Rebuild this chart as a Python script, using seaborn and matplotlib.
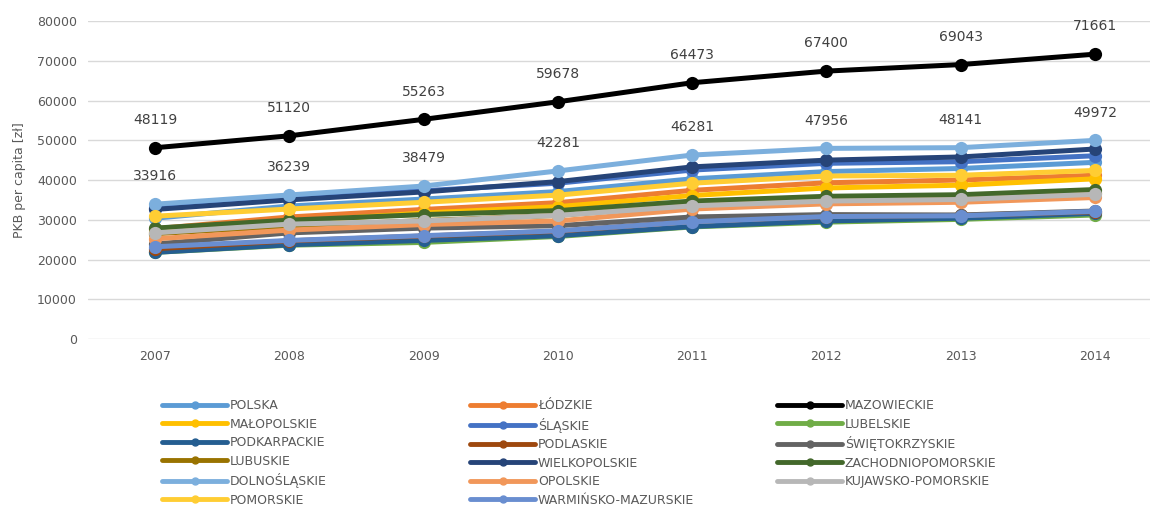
import numpy as np
import pandas as pd
import matplotlib.pyplot as plt
import seaborn as sns
from matplotlib.lines import Line2D

years = [2007, 2008, 2009, 2010, 2011, 2012, 2013, 2014]

regions = ['POLSKA', 'ŁÓDZKIE', 'MAZOWIECKIE', 'MAŁOPOLSKIE', 'ŚLĄSKIE', 'LUBELSKIE',
           'PODKARPACKIE', 'PODLASKIE', 'ŚWIĘTOKRZYSKIE', 'LUBUSKIE', 'WIELKOPOLSKIE',
           'ZACHODNIOPOMORSKIE', 'DOLNOŚLĄSKIE', 'OPOLSKIE', 'KUJAWSKO-POMORSKIE',
           'POMORSKIE', 'WARMIŃSKO-MAZURSKIE']

polska = [30390, 33457, 35210, 37096, 40303, 42120, 42903, 44447]
lodzkie = [27750, 30700, 32600, 34300, 37400, 39300, 40000, 41200]
mazowieckie = [48119, 51120, 55263, 59678, 64473, 67400, 69043, 71661]
malopolskie = [26900, 29500, 31700, 33300, 36100, 38000, 38700, 40300]
slaskie = [33000, 35500, 37300, 39200, 42500, 44200, 44600, 46100]
lubelskie = [21800, 23600, 24300, 25800, 28200, 29400, 30100, 31200]
podkarpackie = [21800, 23700, 24800, 26000, 28300, 29700, 30400, 31600]
podlaskie = [22700, 24700, 25900, 27100, 29600, 30800, 31100, 32000]
swietokrzyskie = [23900, 26700, 27900, 28500, 30700, 31300, 31200, 32200]
lubuskie = [26500, 28400, 29800, 31100, 33800, 35000, 35500, 36700]
wielkopolskie = [32600, 35000, 37000, 39600, 43300, 45000, 45800, 47800]
zachodniopomorskie = [27900, 29900, 31300, 32300, 34700, 35900, 36300, 37600]
dolnoslaskie = [33916, 36239, 38479, 42281, 46281, 47956, 48141, 49972]
opolskie = [25200, 27400, 28800, 29700, 32700, 34000, 34400, 35600]
kujawsko = [26700, 28900, 29700, 31100, 33500, 34700, 35100, 36400]
pomorskie = [30900, 32700, 34400, 36200, 39200, 41000, 41200, 42400]
warminsko = [23200, 24800, 26000, 27200, 29500, 30800, 31000, 32100]

series = [polska, lodzkie, mazowieckie, malopolskie, slaskie, lubelskie, podkarpackie,
          podlaskie, swietokrzyskie, lubuskie, wielkopolskie, zachodniopomorskie,
          dolnoslaskie, opolskie, kujawsko, pomorskie, warminsko]

colors = ['#5B9BD5', '#ED7D31', '#000000', '#FFC000', '#4472C4', '#70AD47', '#255E91',
          '#9E480E', '#636363', '#997300', '#264478', '#43682B', '#7CAFDD', '#F1975A',
          '#B7B7B7', '#FFCD33', '#698ED0']

# long format for seaborn
rows = []
for name, vals in zip(regions, series):
    for y, v in zip(years, vals):
        rows.append({'rok': y, 'region': name, 'pkb': v})
df = pd.DataFrame(rows)

sns.set_style('white')
plt.rcParams['font.family'] = ['DejaVu Sans']

fig = plt.figure(figsize=(11.5, 5.09), dpi=100)
ax = fig.add_axes([0.0765, 0.334, 0.934, 0.6247])

sns.lineplot(data=df, x='rok', y='pkb', hue='region', hue_order=regions,
             palette=colors, marker='o', markersize=9.5, markeredgewidth=0,
             linewidth=3.6, legend=False, ax=ax)

# data labels for Mazowieckie and Dolnośląskie
for vals in [mazowieckie, dolnoslaskie]:
    for y, v in zip(years, vals):
        ax.annotate(str(v), (y, v), xytext=(0, 20), textcoords='offset points',
                    ha='center', va='center', fontsize=10, color='#404040')

ax.set_xlim(2006.5, 2014.5)
ax.set_ylim(0, 80000)
ax.set_yticks(np.arange(0, 80001, 10000))
ax.set_xticks(years)
ax.grid(axis='y', color='#D9D9D9', linewidth=1)
ax.set_axisbelow(True)
for s in ax.spines.values():
    s.set_visible(False)
ax.tick_params(axis='both', length=0, labelsize=9, colors='#595959', pad=8)
ax.set_xlabel('')
ax.set_ylabel('PKB per capita [zł]', fontsize=9, color='#595959', labelpad=8)

# legend: three separate columns, row-major order like the original
handles = [Line2D([], [], color=c, linewidth=3.5, marker='o', markersize=5) for c in colors]
col_x = [0.141, 0.409, 0.676]
for k in range(3):
    idx = list(range(k, len(regions), 3))
    leg = fig.legend([handles[i] for i in idx], [regions[i] for i in idx],
                     loc='upper left', bbox_to_anchor=(col_x[k], 0.216),
                     frameon=False, fontsize=9, handlelength=5.2, handletextpad=0.2,
                     labelspacing=0.44, borderaxespad=0, borderpad=0)
    for t in leg.get_texts():
        t.set_color('#595959')

fig.savefig('out.png', dpi=100)
